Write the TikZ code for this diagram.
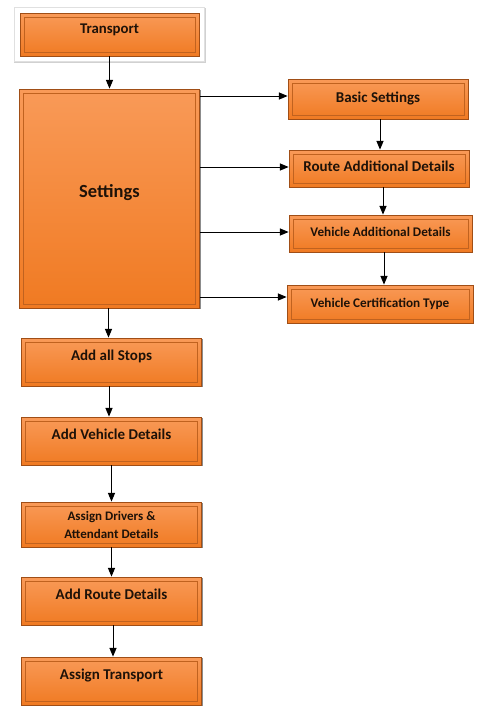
\documentclass[tikz,border=0pt]{standalone}
\usepackage{fontspec}
\setmainfont{Carlito}
\usepackage{tikz}
\usetikzlibrary{arrows, shadows, fit, backgrounds}

\definecolor{orangetop}{HTML}{F99A58}
\definecolor{orangebot}{HTML}{F07A22}
\definecolor{bevelout}{HTML}{A04E16}
\definecolor{bevelin}{HTML}{C0621F}
\definecolor{labeltext}{HTML}{1E1208}

\tikzset{
  stepbox/.style={rectangle, draw=bevelout, line width=.9pt,
    top color=orangetop, bottom color=orangebot, text=labeltext,
    minimum width=180pt, minimum height=48pt, align=center,
    font=\fontsize{15}{17}\selectfont\bfseries,
    drop shadow={shadow xshift=1.4pt, shadow yshift=-1.4pt, fill=black!75, opacity=.6},
    path picture={\draw[bevelin, line width=.9pt]
      ([xshift=4pt,yshift=-4pt]path picture bounding box.north west) rectangle
      ([xshift=-4pt,yshift=4pt]path picture bounding box.south east);}},
  lifted/.style={text height=11pt, text depth=14pt},
  flat/.style={text height=11pt, text depth=5pt},
  flow/.style={-triangle 45, line width=1pt},
  glow/.style={rectangle, fill=white, draw=black!12, line width=.6pt, inner sep=5pt,
    drop shadow={shadow xshift=.8pt, shadow yshift=-1.2pt, shadow scale=1.01, fill=black!40, opacity=.45}}
}

\begin{document}
\begin{tikzpicture}[x=1pt, y=-1pt]
\useasboundingbox (0,0) rectangle (502,716);

% main column
\node[stepbox, lifted, minimum width=179pt, minimum height=43pt, font=\fontsize{14.8}{17}\selectfont\bfseries] (tr) at (109.5,34.5) {Transport};
\node[stepbox, lifted, minimum height=219pt, font=\fontsize{18.5}{20}\selectfont\bfseries] (set) at (109.5,198.5) {Settings};
\node[stepbox, lifted] (stp) at (111.5,362) {Add all Stops};
\node[stepbox, lifted] (veh) at (111.5,441) {Add Vehicle Details};
\node[stepbox, minimum height=45pt, font=\fontsize{13}{18}\selectfont\bfseries] (drv) at (111.5,524.5) {Assign Drivers \&\\Attendant Details};
\node[stepbox, lifted] (rte) at (111.5,601) {Add Route Details};
\node[stepbox, lifted] (asg) at (111.5,681) {Assign Transport};

\begin{scope}[on background layer]
\node[glow, fit=(tr)] (trglow) {};
\end{scope}

% settings column
\node[stepbox, flat, minimum height=40pt] (bas) at (378,99) {Basic Settings};
\node[stepbox, flat, minimum height=37pt] (rad) at (379,168.5) {Route Additional Details};
\node[stepbox, flat, minimum width=183pt, minimum height=37pt, font=\fontsize{13.2}{15}\selectfont\bfseries] (vad) at (380.5,233.5) {Vehicle Additional Details};
\node[stepbox, flat, minimum width=186pt, minimum height=38pt, font=\fontsize{13.2}{15}\selectfont\bfseries] (vct) at (380,304) {Vehicle Certification Type};

% arrows
\draw[flow] (tr) -- (set);
\draw[flow] ([xshift=-1pt]set.south) -- ([xshift=-1pt]set.south |- stp.north);
\draw[flow] ([xshift=-2.5pt]stp.south) -- ([xshift=-2.5pt]stp.south |- veh.north);
\draw[flow] (veh) -- (drv);
\draw[flow] (drv) -- (rte);
\draw[flow] ([xshift=1.5pt]rte.south) -- ([xshift=1.5pt]rte.south |- asg.north);

\draw[flow] ([yshift=3pt]set.east |- bas.west) -- ([yshift=3pt]bas.west);
\draw[flow] ([yshift=1.5pt]set.east |- rad.west) -- ([yshift=1.5pt]rad.west);
\draw[flow] ([yshift=1.5pt]set.east |- vad.west) -- ([yshift=1.5pt]vad.west);
\draw[flow] ([yshift=7pt]set.east |- vct.west) -- ([yshift=7pt]vct.west);

\draw[flow] ([xshift=2pt]bas.south) -- ([xshift=2pt]bas.south |- rad.north);
\draw[flow] ([xshift=4pt]rad.south) -- ([xshift=4pt]rad.south |- vad.north);
\draw[flow] ([xshift=3.5pt]vad.south) -- ([xshift=3.5pt]vad.south |- vct.north);
\end{tikzpicture}
\end{document}
